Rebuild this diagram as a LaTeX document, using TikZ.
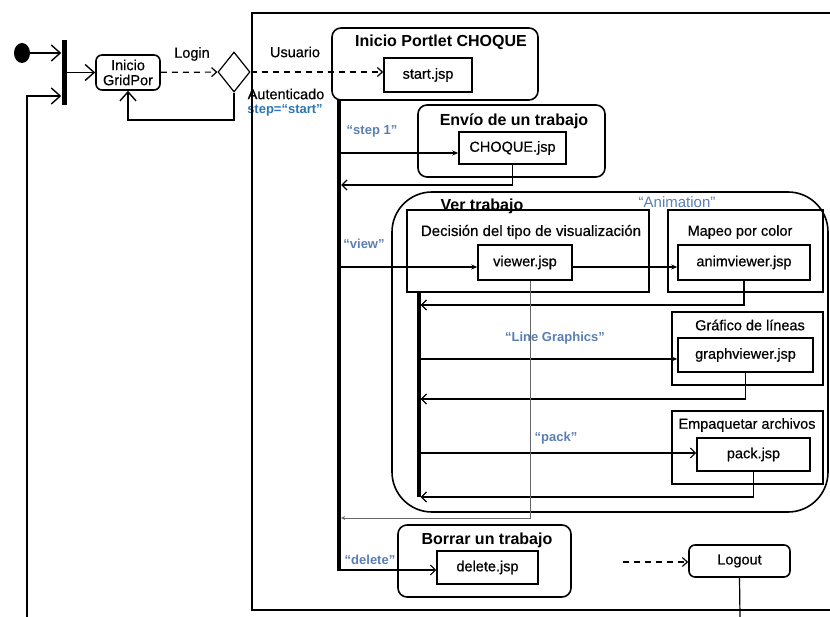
\documentclass[tikz,border=0pt]{standalone}
\usepackage{fontspec}
\setmainfont{Liberation Sans}
\newfontfamily\heavyfont[FakeBold=0.5]{Liberation Sans}
\usetikzlibrary{arrows.meta,shapes.geometric}
\definecolor{stepblue}{HTML}{2E75B6}
\definecolor{condblue}{HTML}{5A7EB2}

\begin{document}
\begin{tikzpicture}[x=1pt, y=-1pt,
    act/.style={rectangle, draw, line width=1.6pt, rounded corners=9pt, inner sep=0pt},
    sub/.style={rectangle, draw, line width=1.6pt, inner sep=0pt},
    jsp/.style={rectangle, draw, line width=1.6pt, inner sep=0pt, font=\heavyfont\fontsize{14.5}{16}\selectfont},
    ttl/.style={font=\fontsize{16}{18}\bfseries\selectfont, inner sep=0pt},
    txt/.style={font=\heavyfont\fontsize{14.5}{16}\selectfont, inner sep=0pt},
    cond/.style={font=\fontsize{13}{15}\bfseries\selectfont, text=condblue, inner sep=0pt},
    bar/.style={rectangle, fill=black, inner sep=0pt},
    arrow/.style={-{Stealth[length=6pt, width=5pt]}, line width=1.2pt},
    back/.style={-{Straight Barb[length=5pt, width=10pt]}, line width=1.2pt},
    bigarrow/.style={-{Straight Barb[length=9pt, width=16pt]}, line width=1.4pt},
    dasharrow/.style={-{Straight Barb[length=5pt, width=9pt]}, line width=1.2pt, dash pattern=on 6pt off 5pt}
]
\useasboundingbox (0,0) rectangle (830,617);

% login part
\node[ellipse, fill=black, minimum width=16pt, minimum height=20pt, inner sep=0pt] (init) at (22,53) {};
\node[bar, minimum width=5pt, minimum height=65pt] (fork) at (64,72.5) {};
\node[act, rounded corners=6pt, minimum width=64pt, minimum height=35pt, align=center,
      font=\heavyfont\fontsize{14.5}{15}\selectfont] (gridpor) at (128,72.5) {Inicio\\GridPor};
\node[diamond, draw, line width=1.2pt, minimum width=32pt, minimum height=40pt, aspect=0.8, inner sep=0pt] (dia) at (234,72) {};
\node[txt] (login) at (192,54) {Login};
\node[txt] (usuario) at (295,52) {Usuario};
\node[txt] (autent) at (286,94) {Autenticado};
\node[cond, text=stepblue] (stepstart) at (285,110) {step=“start”};
\coordinate (loopin) at (27,617);

% portlet frame
\draw[line width=1.6pt] (830,13) -- (252,13) -- (252,610) -- (830,610);

% activities
\node[act, minimum width=206pt, minimum height=72pt] (inicio) at (435,64) {};
\node[ttl] (iniciot) at (441,42) {Inicio Portlet CHOQUE};
\node[jsp, minimum width=88pt, minimum height=34pt] (startjsp) at (428,75) {start.jsp};

\node[act, minimum width=187pt, minimum height=72pt] (envio) at (511.5,141) {};
\node[ttl] (enviot) at (514,121) {Envío de un trabajo};
\node[jsp, minimum width=107pt, minimum height=32pt] (choquejsp) at (512.5,148) {CHOQUE.jsp};

\node[act, rounded corners=40pt, minimum width=436pt, minimum height=320pt] (ver) at (610,352) {};
\node[ttl] (vert) at (482,206) {Ver trabajo};
\node[sub, minimum width=242pt, minimum height=82pt] (decision) at (528,251) {};
\node[txt, font=\heavyfont\fontsize{15}{16}\selectfont] (decisiont) at (531,232) {Decisión del tipo de visualización};
\node[jsp, minimum width=94pt, minimum height=35pt] (viewerjsp) at (525,262.5) {viewer.jsp};

\node[sub, minimum width=155pt, minimum height=82pt] (mapeo) at (745.5,251) {};
\node[txt] (mapeot) at (740,232) {Mapeo por color};
\node[jsp, minimum width=132pt, minimum height=35pt] (animjsp) at (744,262.5) {animviewer.jsp};

\node[sub, minimum width=151pt, minimum height=73pt] (grafico) at (747.5,348.5) {};
\node[txt] (graficot) at (750,325) {Gráfico de líneas};
\node[jsp, minimum width=135pt, minimum height=34pt] (graphjsp) at (745.5,355) {graphviewer.jsp};

\node[sub, minimum width=151pt, minimum height=73pt] (empaq) at (747.5,447.5) {};
\node[txt] (empaqt) at (747,425) {Empaquetar archivos};
\node[jsp, minimum width=113pt, minimum height=33pt] (packjsp) at (753.5,454.5) {pack.jsp};

\node[act, minimum width=173pt, minimum height=72pt] (borrar) at (484.5,561) {};
\node[ttl] (borrart) at (487,540) {Borrar un trabajo};
\node[jsp, minimum width=101pt, minimum height=33pt] (deletejsp) at (487.5,567.5) {delete.jsp};

\node[act, rounded corners=6pt, minimum width=101pt, minimum height=32pt, font=\heavyfont\fontsize{14.5}{16}\selectfont] (logout) at (739.5,561) {Logout};
\coordinate (logoutfrom) at (623,562);
\coordinate (logoutend) at (740,617);

% bars
\node[bar, minimum width=4pt, minimum height=471pt] (mainbar) at (339,335.5) {};
\node[bar, minimum width=4pt, minimum height=205pt] (verbar) at (418.5,394.5) {};

% conditions
\node[cond] (step1) at (372,131) {“step 1”};
\node[cond] (view) at (364,244) {“view”};
\node[cond, font=\fontsize{15}{17}\selectfont] (anim) at (677,202) {“Animation”};
\node[cond] (lineg) at (555,338) {“Line Graphics”};
\node[cond] (pack) at (556,438) {“pack”};
\node[cond] (delete) at (370,560) {“delete”};

% connectors
\draw[bigarrow] (init) -- (fork.west |- init);
\draw[bigarrow] (fork.east |- gridpor) -- (gridpor);
\draw[bigarrow] (loopin) |- (fork.west |- 0,96);
\draw[dasharrow] (gridpor) -- (dia);
\draw[bigarrow] (dia.south) |- (182,120) -| (gridpor.south);
\draw[dasharrow] (dia.east) -- (startjsp.west |- dia.east);

\draw[arrow] (mainbar.east |- 0,153) -- (choquejsp.west |- 0,153);
\draw[back] (choquejsp.south) |- (mainbar.east |- 0,185);
\draw[arrow] (mainbar.east |- 0,267) -- (viewerjsp.west |- 0,267);
\draw[arrow] (viewerjsp.east |- 0,267) -- (animjsp.west |- 0,267);
\draw[back] (animjsp.south) |- (verbar.east |- 0,305);
\draw[arrow] (verbar.east |- 0,359) -- (graphjsp.west |- 0,359);
\draw[back] (graphjsp.south) |- (verbar.east |- 0,399);
\draw[back] (verbar.east |- 0,453) -- (packjsp.west |- 0,453);
\draw[back] (packjsp.south) |- (verbar.east |- 0,497);
\draw[-{Stealth[length=4pt, width=4pt]}, gray!80!black, line width=0.8pt] (viewerjsp.south -| 530,0) |- (mainbar.east |- 0,518);
\draw[back] (mainbar.east |- 0,570) -- (deletejsp.west |- 0,570);
\draw[dasharrow] (logoutfrom) -- (logout.west |- logoutfrom);
\draw[line width=1.2pt] (logout.south) -- (logoutend);
\end{tikzpicture}
\end{document}
